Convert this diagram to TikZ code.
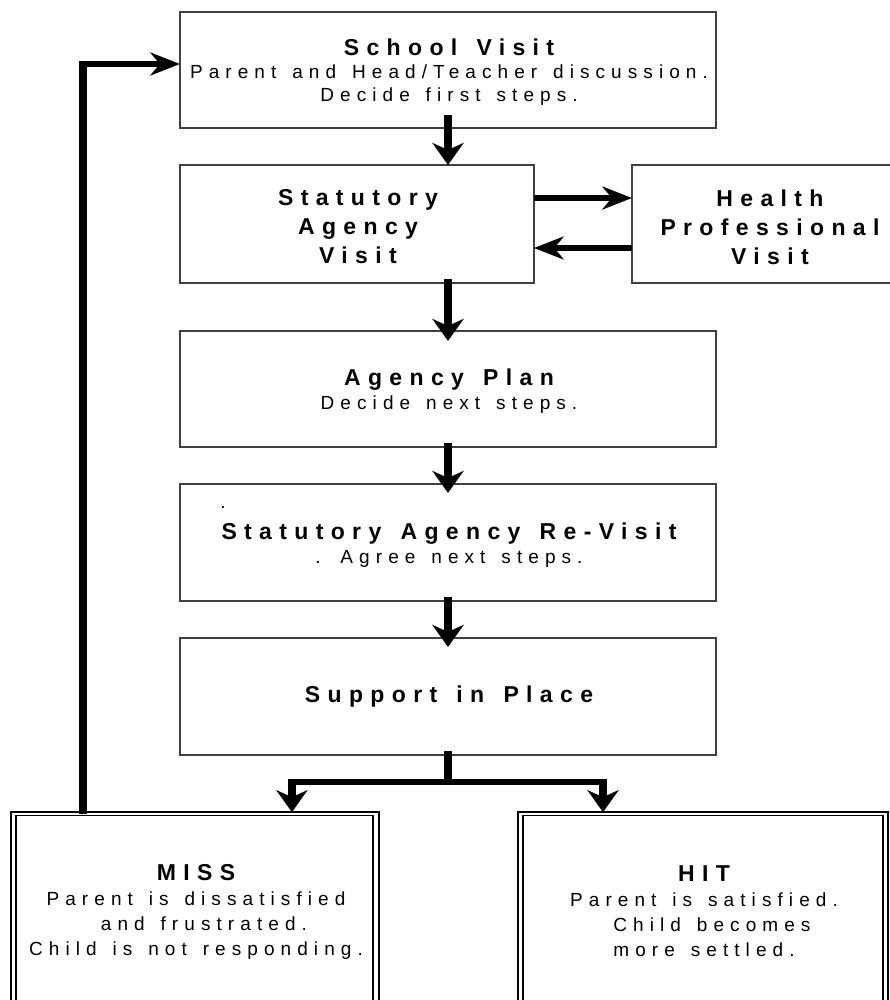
\documentclass[tikz,border=0pt]{standalone}
\usepackage{fontspec}
\setmainfont{Liberation Sans}
\newfontfamily\ttlfam[LetterSpace=32, WordSpace=1.4]{Liberation Sans}
\newfontfamily\subfam[LetterSpace=32, WordSpace=1.4]{Liberation Sans}
\newcommand\ttl{\ttlfam\bfseries\fontsize{23}{29}\selectfont}
\newcommand\subt{\subfam\fontsize{19}{24}\selectfont}
\usetikzlibrary{arrows.meta,calc}

\tikzset{
  box/.style 2 args={draw=black!75, line width=1.3pt, inner sep=0pt, outer sep=0pt,
    minimum width=#1pt/1.35, minimum height=#2pt},
  dbox/.style 2 args={draw=black, line width=1.5pt, double=white, double distance=2.4pt,
    inner sep=0pt, outer sep=0pt, minimum width=#1pt/1.35, minimum height=#2pt},
  txt/.style={align=center, inner sep=0pt, font=\subt, xshift=1pt},
  link/.style={line width=5.5pt, line join=miter, line cap=butt},
  arr/.style={link, -{Stealth[length=22pt, width=23pt, inset=7pt]}},
}

\begin{document}
\begin{tikzpicture}
\fill[white] (0pt,0pt) rectangle (890pt,-1000pt);

% boxes and connectors: drawn in a frame widened horizontally as a whole
\begin{scope}[x=0.740741pt, y=-1pt, transform canvas={xscale=1.35}]
  \node[box={536}{116}] (school) at (448,70) {};
  \node[box={354}{118}] (stat) at (357,224) {};
  \node[box={274}{118}] (health) at (769,224) {};
  \node[box={536}{116}] (plan) at (448,389) {};
  \node[box={536}{117}] (revisit) at (448,542.5) {};
  \node[box={536}{117}] (support) at (448,696.5) {};
  \node[dbox={362.7}{210}] (miss) at (194.7,918.7) {};
  \node[dbox={365}{210}] (hit) at (703,918.7) {};

  % main flow
  \draw[arr, shorten <=-13pt] (school.south) -- (school.south |- stat.north);
  \draw[arr, shorten <=-4pt, shorten >=-10pt] (stat.south -| plan.north) -- (plan.north);
  \draw[arr, shorten <=-4pt, shorten >=-9pt] (plan.south) -- (revisit.north);
  \draw[arr, shorten <=-4pt, shorten >=-9pt] (revisit.south) -- (support.north);

  % to and from the health professional
  \path ([yshift=26pt]stat.east) coordinate (sh1)
        ([yshift=-24pt]health.west) coordinate (sh2);
  \draw[arr] (sh1) -- (sh1 -| health.west);
  \draw[arr] (sh2) -- (sh2 -| stat.east);

  % outcome branches
  \draw[link, shorten <=-4pt] (support.south) -- ++(0,27) coordinate (fork);
  \coordinate (missin) at ($(miss.north west)!0.768!(miss.north east)$);
  \coordinate (hitin) at ($(hit.north west)!0.226!(hit.north east)$);
  \draw[arr, shorten >=1.5pt] (fork) -| (missin);
  \draw[arr, shorten >=1.5pt] (fork) -| (hitin);

  % back to the start after a miss
  \coordinate (loopfoot) at ($(miss.north west)!0.192!(miss.north east)$);
  \draw[arr] (loopfoot) |- ([yshift=6pt]school.west);
\end{scope}

% texts, set upright in the page frame
\begin{scope}[x=1pt, y=-1pt]
  \node[txt, font=\subfam\fontsize{19}{23}\selectfont] (schooltxt) at (448,72)
    {{\ttl School Visit}\\ Parent and Head/Teacher discussion.\\ Decide first steps.};
  \node[txt, font=\ttl] (stattxt) at (357,227) {Statutory\\Agency\\Visit};
  \node[txt, font=\ttl] (healthtxt) at (769,227) {Health\\Professional\\Visit};
  \node[txt] (plantxt) at (448,391) {{\ttl Agency Plan}\\ Decide next steps.};
  \node[txt, anchor=base] (revdot) at (222,508) {.};
  \node[txt] (revisittxt) at (448,545) {{\ttl Statutory Agency Re-Visit}\\ . Agree next steps.};
  \node[txt, font=\ttl] (supporttxt) at (448,697) {Support in Place};
  \node[txt, font=\subfam\fontsize{19}{25}\selectfont] (misstxt) at (195,912)
    {{\ttl MISS}\\Parent is dissatisfied\\\ and frustrated.\\Child is not responding.};
  \node[txt, font=\subfam\fontsize{19}{25}\selectfont] (hittxt) at (703,911)
    {{\ttl HIT}\\Parent is satisfied.\\\ Child becomes\\more settled.};
\end{scope}
\pgfresetboundingbox
\useasboundingbox (0pt,0pt) rectangle (890pt,-1000pt);
\end{tikzpicture}
\end{document}
